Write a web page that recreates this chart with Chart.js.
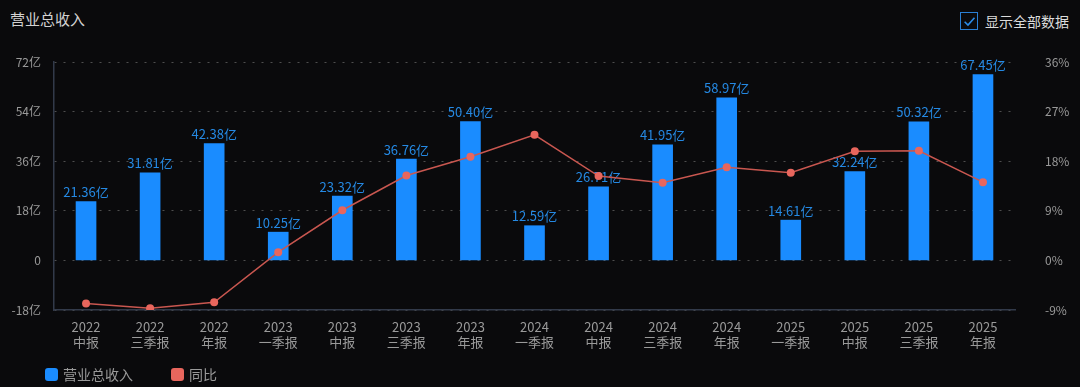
<!DOCTYPE html>
<html>
<head>
<meta charset="utf-8">
<script src="https://cdn.jsdelivr.net/npm/chart.js@4.4.1/dist/chart.umd.min.js"></script>
<style>
  html, body { margin: 0; padding: 0; background: #0a0a0c; }
  body { width: 1080px; height: 387px; position: relative; overflow: hidden;
         font-family: "Noto Sans CJK SC", "Noto Sans", sans-serif; }
  #title { position: absolute; left: 10px; top: 8px; color: #d2d2d2; font-size: 15px; }
  #toggle { position: absolute; left: 960px; top: 11px; color: #dcdcdc; font-size: 14px;
            display: flex; align-items: center; }
  #toggle .box { width: 18px; height: 18px; border: 1.5px solid #2a7fd4; box-sizing: border-box;
                 margin-right: 7px; position: relative; }
  #toggle .box svg { position: absolute; left: 1.5px; top: 1.5px; }
  #legend { position: absolute; left: 45px; top: 364px; display: flex; align-items: center;
            color: #9a9a9a; font-size: 14px; }
  #legend .item { display: flex; align-items: center; margin-right: 38px; }
  #legend .sw { width: 13px; height: 13px; border-radius: 3px; margin-right: 5px; }
  #wrap { position: absolute; left: 0; top: 0; width: 1080px; height: 387px; }
</style>
</head>
<body>
<div id="title">营业总收入</div>
<div id="toggle"><span class="box"><svg width="13" height="13" viewBox="0 0 12 12"><path d="M1.5 6.2 L4.6 9.2 L10.6 2.6" fill="none" stroke="#2a8ae6" stroke-width="1.5"/></svg></span>显示全部数据</div>
<div id="wrap"><canvas id="chart"></canvas></div>
<div id="legend"></div>
<script>
// periods (two-line labels)
var periods = [
  ['2022', '中报'], ['2022', '三季报'], ['2022', '年报'],
  ['2023', '一季报'], ['2023', '中报'], ['2023', '三季报'], ['2023', '年报'],
  ['2024', '一季报'], ['2024', '中报'], ['2024', '三季报'], ['2024', '年报'],
  ['2025', '一季报'], ['2025', '中报'], ['2025', '三季报'], ['2025', '年报']
];

// 营业总收入 (亿)
var revenue = [21.36, 31.81, 42.38, 10.25, 23.32, 36.76, 50.40, 12.59, 26.71, 41.95, 58.97, 14.61, 32.24, 50.32, 67.45];

// 同比 (%)
var yoy = [-7.8, -8.7, -7.6, 1.5, 9.1, 15.4, 18.8, 22.8, 15.3, 14.1, 16.9, 15.9, 19.8, 19.9, 14.2];

// axis ticks
var revenueTicks = [-18, 0, 18, 36, 54, 72];
var yoyTicks = [-9, 0, 9, 18, 27, 36];

var barColor = '#1a8cff';
var lineColor = '#c95750';
var pointColor = '#e8665d';
var fontFamily = '"Noto Sans CJK SC", "Noto Sans", sans-serif';

// draw value labels above bars
var barLabels = {
  id: 'barLabels',
  afterDatasetDraw: function(chart, args) {
    if (args.index !== 0) return;
    var ctx = chart.ctx;
    var meta = chart.getDatasetMeta(0);
    ctx.save();
    ctx.font = '13px ' + fontFamily;
    ctx.fillStyle = '#2589e3';
    ctx.textAlign = 'center';
    ctx.textBaseline = 'bottom';
    meta.data.forEach(function(bar, i) {
      ctx.fillText(revenue[i].toFixed(2) + '亿', bar.x, bar.y - 3);
    });
    ctx.restore();
  }
};

var chart = new Chart(document.getElementById('chart'), {
  data: {
    labels: periods,
    datasets: [
      {
        type: 'bar',
        label: '营业总收入',
        data: revenue,
        yAxisID: 'y',
        backgroundColor: barColor,
        barThickness: 20,
        order: 1
      },
      {
        type: 'line',
        label: '同比',
        data: yoy,
        yAxisID: 'y1',
        borderColor: lineColor,
        borderWidth: 1.5,
        pointRadius: 4,
        pointBackgroundColor: pointColor,
        pointBorderWidth: 0,
        tension: 0,
        order: 0
      }
    ]
  },
  options: {
    responsive: true,
    maintainAspectRatio: false,
    animation: false,
    layout: { padding: { top: 62, left: 0, right: 0, bottom: 29 } },
    plugins: {
      tooltip: { enabled: false },
      legend: { display: false }
    },
    scales: {
      x: {
        grid: { display: false, drawTicks: false },
        border: { display: true, color: '#323a4a', width: 1.5 },
        ticks: { color: '#9a9a9a', font: { size: 13, family: fontFamily, lineHeight: 1.15 }, padding: 10, maxRotation: 0, autoSkip: false },
        afterFit: function(scale) { scale.height = 48; }
      },
      y: {
        position: 'left',
        min: revenueTicks[0],
        max: revenueTicks[revenueTicks.length - 1],
        afterBuildTicks: function(scale) { scale.ticks = revenueTicks.map(function(v) { return { value: v }; }); },
        grid: { color: '#4e4e4e', lineWidth: 1, drawTicks: false },
        // in v4 border.dash sets the dash of the grid lines; the axis line stays solid
        border: { display: true, color: '#323a4a', width: 1.5, dash: [2, 7] },
        ticks: {
          color: '#9a9a9a',
          font: { size: 12, family: fontFamily },
          padding: 13,
          callback: function(v) { return v === 0 ? '0' : v + '亿'; }
        },
        afterFit: function(scale) { scale.width = 54; }
      },
      y1: {
        position: 'right',
        min: yoyTicks[0],
        max: yoyTicks[yoyTicks.length - 1],
        afterBuildTicks: function(scale) { scale.ticks = yoyTicks.map(function(v) { return { value: v }; }); },
        grid: { drawOnChartArea: false, drawTicks: false },
        border: { display: false },
        ticks: {
          color: '#9a9a9a',
          font: { size: 12, family: fontFamily },
          padding: 30,
          callback: function(v) { return v + '%'; }
        },
        afterFit: function(scale) { scale.width = 65; }
      }
    }
  },
  plugins: [barLabels]
});

// legend built from the datasets
var legendEl = document.getElementById('legend');
var swatches = [barColor, pointColor];
chart.data.datasets.forEach(function(ds, i) {
  var item = document.createElement('span');
  item.className = 'item';
  item.innerHTML = '<span class="sw" style="background:' + swatches[i] + '"></span>' + ds.label;
  legendEl.appendChild(item);
});
</script>
</body>
</html>
